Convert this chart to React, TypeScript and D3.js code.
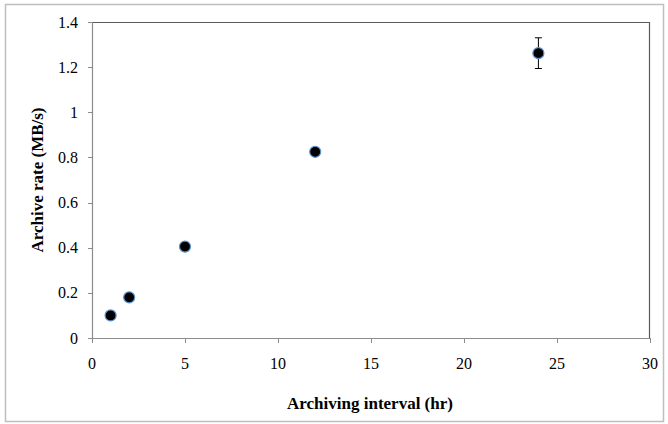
import React from "react";
import * as d3 from "d3";

const intervals = [1, 2, 5, 12, 24];
const rates = [0.1, 0.18, 0.405, 0.825, 1.262];
const errors = [0, 0, 0, 0, 0.068];
const xTicks = [0, 5, 10, 15, 20, 25, 30];
const yTicks = [0, 0.2, 0.4, 0.6, 0.8, 1, 1.2, 1.4];

const W = 668, H = 424;
const left = 92, right = 650, top = 22, bottom = 338;
const FONT = "'Liberation Serif', serif";

export default function App() {
  const x = d3.scaleLinear().domain([0, 30]).range([left, right]);
  const y = d3.scaleLinear().domain([0, 1.4]).range([bottom, top]);
  return (
    <div style={{ position: "absolute", left: 0, top: 0 }}>
      <svg width={W} height={H} style={{ display: "block" }}>
        <rect x={0} y={0} width={W} height={H} fill="#fff" />
        <rect x={5.5} y={4.5} width={658} height={417} fill="#fff" stroke="#bfbfbf" strokeWidth={1.5} />
        <path d={`M${left},${top + 0.5}H${right - 0.5}V${bottom}`} fill="none" stroke="#5a5a5a" strokeWidth={1.2} />
        <line x1={left + 0.5} x2={left + 0.5} y1={top} y2={bottom} stroke="#8c8c8c" strokeWidth={1.2} />
        <line x1={left} x2={right} y1={bottom + 0.5} y2={bottom + 0.5} stroke="#8c8c8c" strokeWidth={1.2} />
        {yTicks.map((t) => (
          <g key={"y" + t}>
            <line x1={left - 4} x2={left} y1={Math.round(y(t)) + 0.5} y2={Math.round(y(t)) + 0.5} stroke="#8c8c8c" />
            <text x={left - 14} y={y(t)} dy="0.35em" textAnchor="end" fontFamily={FONT} fontSize={16} fill="#000">
              {d3.format("~g")(t)}
            </text>
          </g>
        ))}
        {xTicks.map((t) => (
          <g key={"x" + t}>
            <line x1={Math.round(x(t)) + 0.5} x2={Math.round(x(t)) + 0.5} y1={bottom} y2={bottom + 5} stroke="#8c8c8c" />
            <text x={x(t)} y={bottom + 31} textAnchor="middle" fontFamily={FONT} fontSize={16} fill="#000">
              {t}
            </text>
          </g>
        ))}
        {intervals.map((d, i) =>
          errors[i] > 0 ? (
            <g key={"e" + i} stroke="#000" strokeWidth={1}>
              <line x1={x(d)} x2={x(d)} y1={y(rates[i] + errors[i])} y2={y(rates[i] - errors[i])} />
              <line x1={x(d) - 3.5} x2={x(d) + 3.5} y1={y(rates[i] + errors[i])} y2={y(rates[i] + errors[i])} />
              <line x1={x(d) - 3.5} x2={x(d) + 3.5} y1={y(rates[i] - errors[i])} y2={y(rates[i] - errors[i])} />
            </g>
          ) : null
        )}
        {intervals.map((d, i) => (
          <circle key={"p" + i} cx={x(d)} cy={y(rates[i])} r={5.5} fill="#000" stroke="#5b8fc9" strokeWidth={1.2} />
        ))}
        <text x={370} y={409} textAnchor="middle" fontFamily={FONT} fontWeight="bold" fontSize={17} fill="#000">
          Archiving interval (hr)
        </text>
        <text transform={`translate(43,${(top + bottom) / 2}) rotate(-90)`} textAnchor="middle" fontFamily={FONT} fontWeight="bold" fontSize={17} fill="#000">
          Archive rate (MB/s)
        </text>
      </svg>
    </div>
  );
}
